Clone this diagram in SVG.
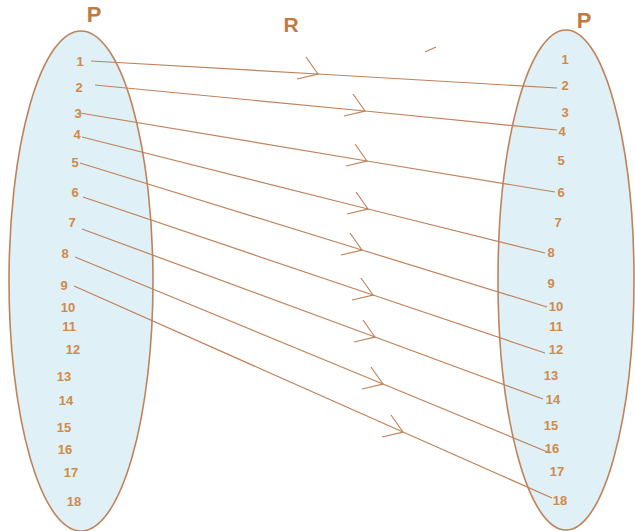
<svg xmlns="http://www.w3.org/2000/svg" width="635" height="531" viewBox="0 0 635 531">
<style>
.set{fill:#dff0f7;stroke:#c0825a;stroke-width:1.6}
.n{font-family:"Liberation Sans",Arial,sans-serif;font-size:13px;font-weight:bold;fill:#d08a48;text-anchor:middle}
.big{font-family:"Liberation Sans",Arial,sans-serif;font-weight:bold;fill:#c07a42;text-anchor:middle}
.ln{fill:none;stroke:#c0825a;stroke-width:1.2;marker-mid:url(#arr)}
</style>
<defs>
<marker id="arr" markerUnits="userSpaceOnUse" viewBox="-25 -20 30 30" refX="0" refY="0" markerWidth="30" markerHeight="30" orient="0" overflow="visible">
<path d="M -12 -17 L 0 0 L -21 5" fill="none" stroke="#c0825a" stroke-width="1.2"/>
</marker>
</defs>
<g id="left-set">
<ellipse class="set" cx="81" cy="281" rx="72" ry="250"/>
<text class="big" x="94" y="22" font-size="22">P</text>
<text class="n" x="80" y="66">1</text>
<text class="n" x="79" y="92">2</text>
<text class="n" x="78" y="118">3</text>
<text class="n" x="77" y="139">4</text>
<text class="n" x="75" y="167">5</text>
<text class="n" x="75" y="197">6</text>
<text class="n" x="72" y="227">7</text>
<text class="n" x="65" y="258">8</text>
<text class="n" x="64" y="290">9</text>
<text class="n" x="68" y="312">10</text>
<text class="n" x="69" y="331">11</text>
<text class="n" x="73" y="354">12</text>
<text class="n" x="64" y="381">13</text>
<text class="n" x="66" y="405">14</text>
<text class="n" x="64" y="432">15</text>
<text class="n" x="65" y="454">16</text>
<text class="n" x="71" y="477">17</text>
<text class="n" x="74" y="506">18</text>
</g>
<g id="right-set">
<ellipse class="set" cx="566" cy="280" rx="68" ry="250"/>
<text class="big" x="584" y="28" font-size="22">P</text>
<text class="n" x="565" y="64">1</text>
<text class="n" x="565" y="90">2</text>
<text class="n" x="565" y="117">3</text>
<text class="n" x="562" y="136">4</text>
<text class="n" x="561" y="165">5</text>
<text class="n" x="561" y="197">6</text>
<text class="n" x="558" y="227">7</text>
<text class="n" x="551" y="257">8</text>
<text class="n" x="551" y="288">9</text>
<text class="n" x="556" y="311">10</text>
<text class="n" x="556" y="331">11</text>
<text class="n" x="556" y="354">12</text>
<text class="n" x="551" y="380">13</text>
<text class="n" x="553" y="404">14</text>
<text class="n" x="551" y="430">15</text>
<text class="n" x="552" y="453">16</text>
<text class="n" x="557" y="476">17</text>
<text class="n" x="560" y="505">18</text>
</g>
<g id="relation-label">
<text class="big" x="291" y="32" font-size="21">R</text>
</g>
<g id="connectors">
<path class="ln" d="M 91 61 L 318 74 L 557 88"/>
<path class="ln" d="M 95 85 L 365 111 L 557 130"/>
<path class="ln" d="M 80 113 L 367 161 L 555 192"/>
<path class="ln" d="M 82 137 L 368 209 L 545 253"/>
<path class="ln" d="M 80 163 L 362 250 L 547 307"/>
<path class="ln" d="M 83 197 L 373 295 L 545 353"/>
<path class="ln" d="M 82 229 L 375 337 L 543 399"/>
<path class="ln" d="M 75 257 L 383 384 L 550 453"/>
<path class="ln" d="M 74 286 L 403 432 L 552 498"/>
<path d="M 425 52 L 436 47" stroke="#c0825a" stroke-width="1.2" fill="none"/>
</g>
</svg>
